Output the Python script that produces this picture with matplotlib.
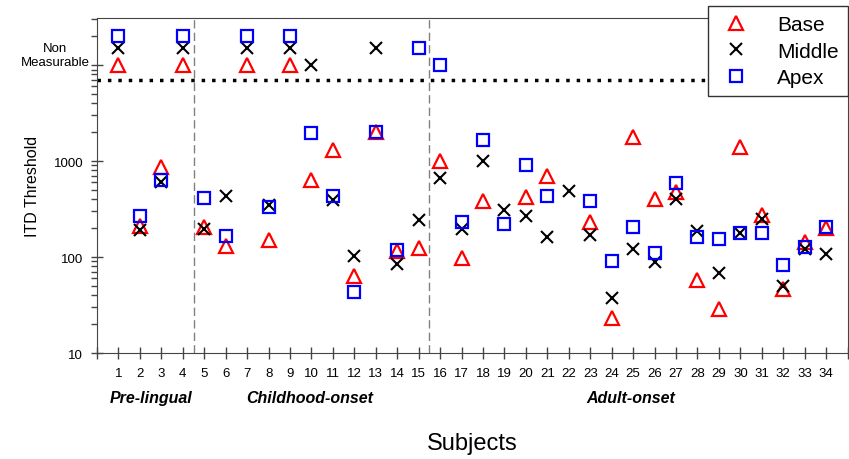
import matplotlib.pyplot as plt
import numpy as np
from matplotlib.ticker import LogLocator, FixedLocator, NullFormatter

plt.rcParams['font.family'] = ['Liberation Sans', 'DejaVu Sans']

subjects = list(range(1, 35))

# threshold values; 10000-20000 are "non measurable" placements above the dotted line
base = [10000, 210, 860, 10000, 207, 131, 10000, 150, 10000, 634,
        1300, 64, 2000, 115, 123, 1000, 98, 380, None, 425,
        700, None, 230, 23, 1800, 400, 480, 58, 29, 1410,
        274, 46, 145, 200]
middle = [15000, 192, 600, 15000, 196, 430, 15000, 351, 15000, 10000,
          392, 103, 15000, 85, 245, 665, 196, 1010, 311, 265,
          160, 483, 171, 37, 121, 88, 402, 188, 69, 180,
          249, 50, 121, 107]
apex = [20000, 265, 634, 20000, 408, 167, 20000, 329, 20000, 1960,
        428, 43.5, 2000, 119, 15000, 10000, 230, 1660, 221, 908,
        436, None, 386, 90, 207, 110, 590, 160, 154, 178,
        178, 83, 128, 207]

def pts(vals):
    xs = [s for s, v in zip(subjects, vals) if v is not None]
    ys = [v for v in vals if v is not None]
    return xs, ys

fig = plt.figure(figsize=(8.49, 4.6), dpi=100)
ax = fig.add_axes([0.1143, 0.2304, 0.884, 0.7283])

ax.set_yscale('log')
ax.set_xlim(0, 35)
ax.set_ylim(10, 31000)

ax.plot(*pts(base), linestyle='none', marker='^', ms=10, mfc='none', mec='red', mew=1.6, label='Base')
ax.plot(*pts(middle), linestyle='none', marker='x', ms=8.6, mec='black', mew=1.5, label='Middle')
ax.plot(*pts(apex), linestyle='none', marker='s', ms=8.6, mfc='none', mec='blue', mew=1.6, label='Apex')

ax.axvline(4.5, color='gray', linestyle=(0, (6, 3)), lw=1)
ax.axvline(15.5, color='gray', linestyle=(0, (6, 3)), lw=1)
ax.axhline(7000, color='black', linestyle=(0, (1, 2)), lw=2.5)

ax.xaxis.set_major_locator(FixedLocator(range(0, 36)))
ax.set_xticklabels([''] + [str(s) for s in subjects] + [''], fontsize=9.5)
ax.yaxis.set_major_locator(FixedLocator([10, 100, 1000, 10000]))
ax.set_yticklabels(['10', '100', '1000', ''], fontsize=9.5)
ax.yaxis.set_minor_locator(LogLocator(base=10, subs=np.arange(2, 10)))
ax.yaxis.set_minor_formatter(NullFormatter())
ax.tick_params(axis='both', which='major', direction='inout', length=8, width=1, color='#444444', pad=6)
ax.tick_params(axis='y', which='minor', direction='out', length=4, width=1, color='#444444')
for sp in ax.spines.values():
    sp.set_color('#444444')

ax.set_ylabel('ITD Threshold', fontsize=11.5, labelpad=10)
ax.text(-1.95, 12800, 'Non\nMeasurable', ha='center', va='center', fontsize=9.5, linespacing=1.25)

ax.text(2.5, -0.134, 'Pre-lingual', transform=ax.get_xaxis_transform(), ha='center', va='center',
        fontsize=11.5, fontweight='bold', fontstyle='italic')
ax.text(9.9, -0.134, 'Childhood-onset', transform=ax.get_xaxis_transform(), ha='center', va='center',
        fontsize=11.5, fontweight='bold', fontstyle='italic')
ax.text(24.9, -0.134, 'Adult-onset', transform=ax.get_xaxis_transform(), ha='center', va='center',
        fontsize=11.5, fontweight='bold', fontstyle='italic')
ax.set_xlabel('Subjects', fontsize=17, labelpad=38)

leg = ax.legend(loc='upper right', bbox_to_anchor=(1.001, 1.036), borderaxespad=0, fontsize=15,
                frameon=True, fancybox=False, edgecolor='#333333', framealpha=1, handlelength=1.8,
                handletextpad=1.1, borderpad=0.45, labelspacing=0.35)
leg.get_frame().set_linewidth(1)

fig.savefig('out.png', dpi=100)
